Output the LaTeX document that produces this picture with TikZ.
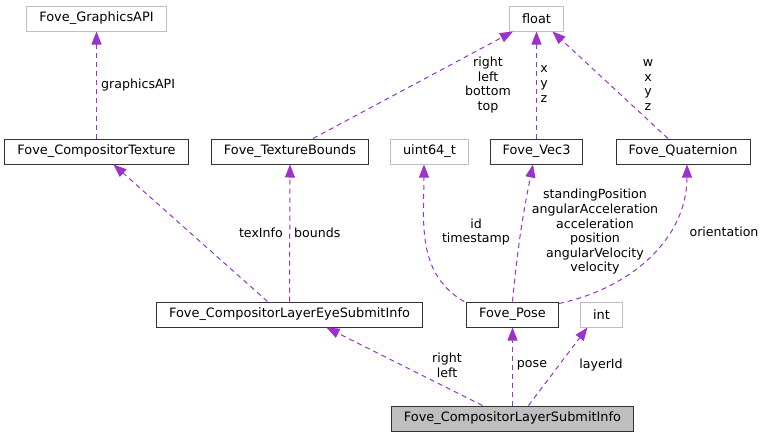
\documentclass[tikz,border=0pt]{standalone}
\usepackage{fontspec}
\setmainfont{DejaVu Sans}
\usetikzlibrary{positioning,arrows.meta}
\definecolor{linkcol}{HTML}{9A32CD}
\definecolor{extcol}{HTML}{BFBFBF}

\begin{document}
\begin{tikzpicture}[
	x=1pt, y=-1pt,
	box/.style={draw=black!80, line width=1pt, minimum height=25pt, inner xsep=12.5pt, inner ysep=0pt, font=\fontsize{12.9}{14}\selectfont},
	ext/.style={box, draw=extcol},
	main/.style={box, fill=extcol},
	link/.style={-{Triangle[length=13pt,width=10pt]}, color=linkcol, line width=1pt, dash pattern=on 5pt off 4pt},
	lbl/.style={align=center, inner sep=0pt, font=\fontsize{12.6}{14.6}\selectfont}
	]
	\useasboundingbox (0,0) rectangle (769,437);
	
	% Klassen mit Rahmen
	\foreach \nm/\px/\py/\txt in {ctex/96.5/151.5/Fove\_CompositorTexture, tb/290/151.5/Fove\_TextureBounds, vec/536.5/151.5/Fove\_Vec3, quat/683/151.5/Fove\_Quaternion, eye/289.5/314.5/Fove\_CompositorLayerEyeSubmitInfo, pose/512.5/314.5/Fove\_Pose} {
		\node[box] (\nm) at (\px, \py) {\txt};
	}
	% einfache Typen
	\foreach \nm/\px/\py/\txt in {gfx/96.5/18.5/Fove\_GraphicsAPI, flt/536.5/18.5/float, uint/429.5/151.5/uint64\_t, int/601.5/314.5/int} {
		\node[ext] (\nm) at (\px, \py) {\txt};
	}
	\node[main] (sub) at (512.5, 418.5) {Fove\_CompositorLayerSubmitInfo};
	
	% obere Ebene
	\draw[link] (ctex.north) -- (gfx.south);
	\node[lbl, anchor=west] (lgfx) at (101, 85) {graphicsAPI};
	\draw[link] ([xshift=23pt]tb.north) -- ([xshift=-23.5pt]flt.south);
	\node[lbl] (ltb) at (488, 85) {right\\left\\bottom\\top};
	\draw[link] (vec.north) -- (flt.south);
	\node[lbl] (lvec) at (544, 84) {x\\y\\z};
	\draw[link] ([xshift=-15pt]quat.north) -- ([xshift=16pt]flt.south);
	\node[lbl] (lquat) at (648, 85) {w\\x\\y\\z};
	
	% mittlere Ebene
	\draw[link] ([xshift=-22pt]eye.north) -- ([xshift=17pt]ctex.south);
	\node[lbl, anchor=east] (ltex) at (283, 233) {texInfo};
	\draw[link] (eye.north) -- (tb.south);
	\node[lbl, anchor=west] (lbnd) at (294, 233) {bounds};
	\draw[link] ([xshift=-2pt]pose.north west) to[out=150, in=-90] ([xshift=-5.5pt]uint.south);
	\node[lbl] (lid) at (476, 232) {id\\timestamp};
	\draw[link] (pose.north) to[bend left=3] ([xshift=-3.5pt]vec.south);
	\node[lbl] (lpos) at (595, 232) {standingPosition\\angularAcceleration\\acceleration\\position\\angularVelocity\\velocity};
	\draw[link] ([yshift=-2pt]pose.north east) to[out=12, in=-90] ([xshift=4pt]quat.south);
	\node[lbl] (lori) at (724, 232) {orientation};
	
	% untere Ebene
	\draw[link] ([xshift=-30pt]sub.north) -- ([xshift=37pt]eye.south);
	\node[lbl] (leye) at (447, 365) {right\\left};
	\draw[link] (sub.north) -- (pose.south);
	\node[lbl] (lpose) at (532, 365) {pose};
	\draw[link] ([xshift=16pt]sub.north) -- ([xshift=-14pt]int.south);
	\node[lbl] (llay) at (601, 365) {layerId};
\end{tikzpicture}
\end{document}
